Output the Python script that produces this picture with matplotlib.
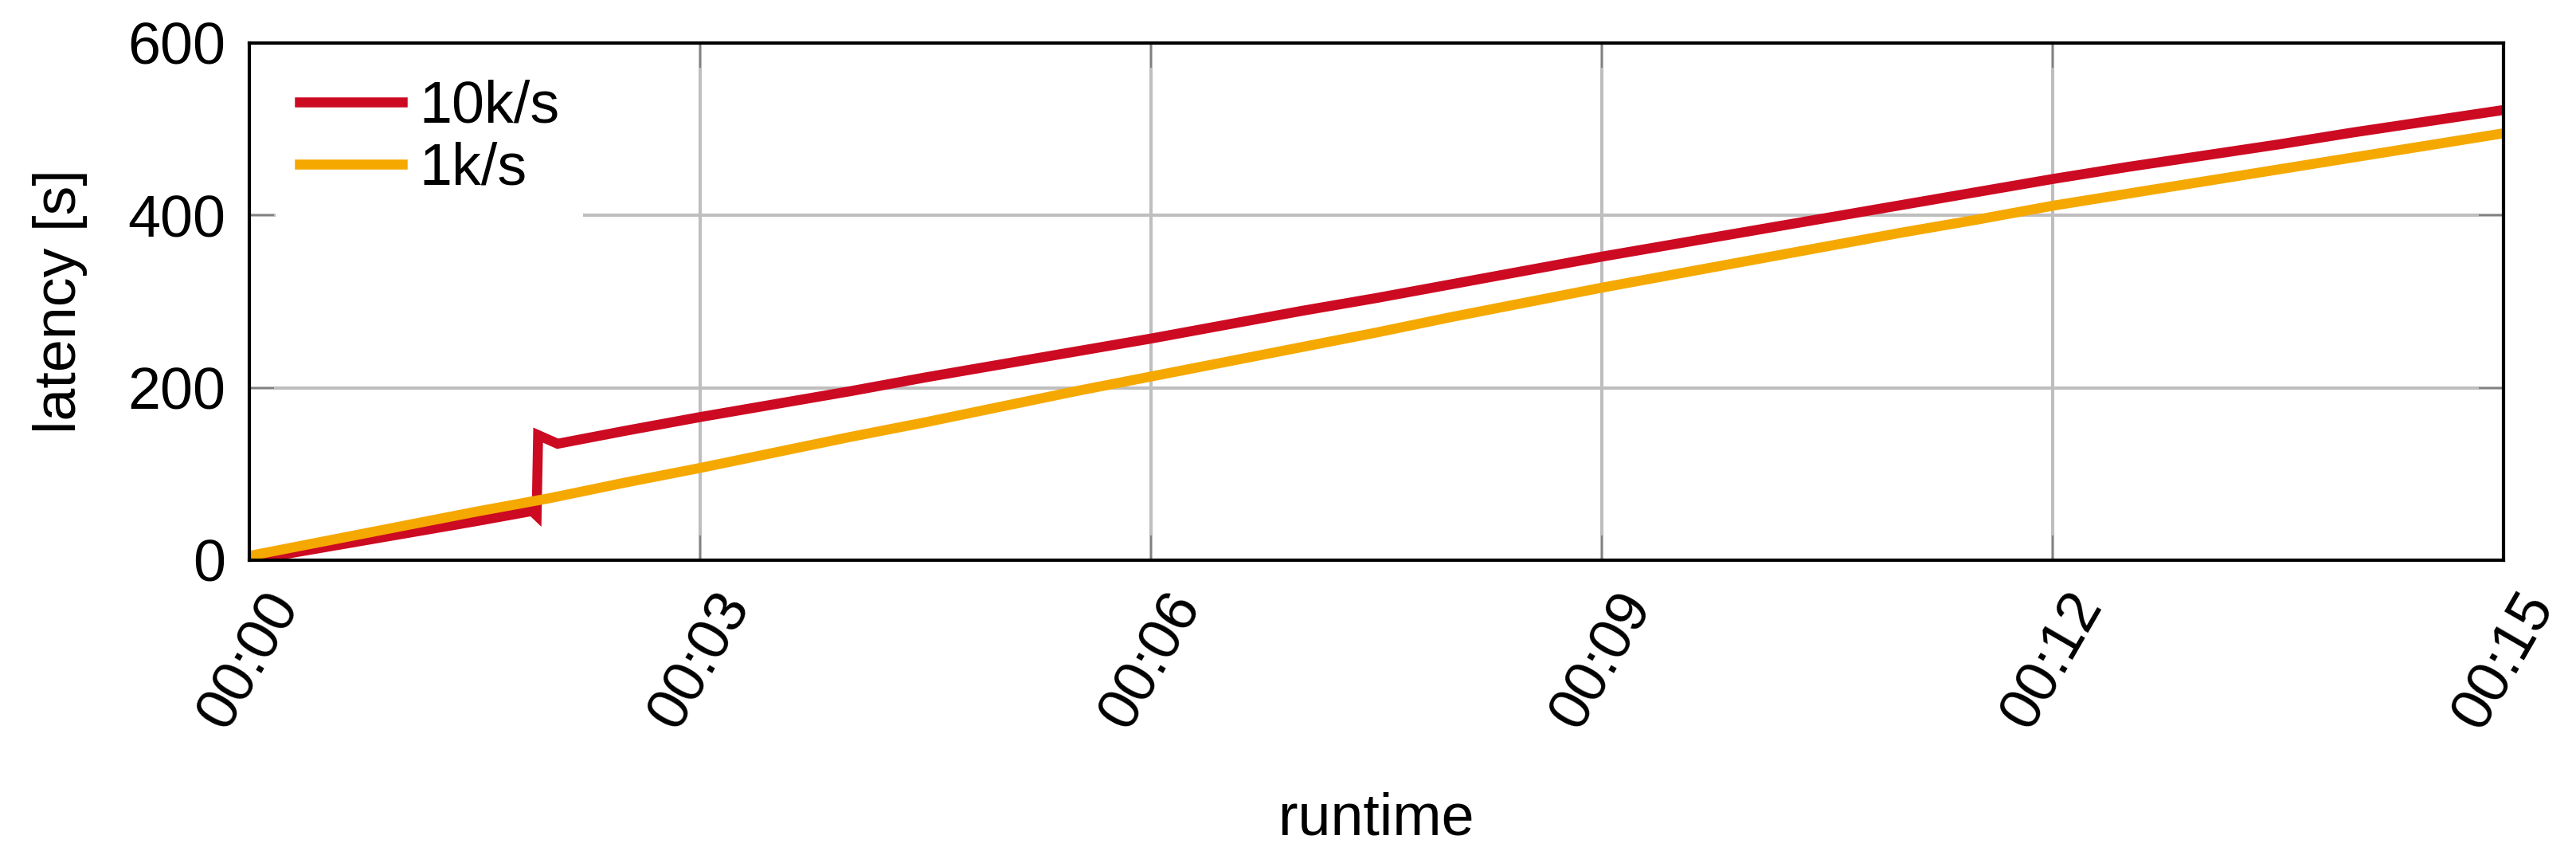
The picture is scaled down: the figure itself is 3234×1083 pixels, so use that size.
import matplotlib
matplotlib.use("Agg")
import matplotlib.pyplot as plt

# ---- data (runtime in minutes, latency in seconds) ----
t_10k = [0.0, 0.5, 1.0, 1.5, 1.88, 1.91, 1.92, 2.05, 2.5, 3.0, 3.5, 4.0, 4.5, 5.0,
         5.5, 6.0, 6.5, 7.0, 7.5, 8.0, 8.5, 9.0, 9.5, 10.0, 10.5, 11.0, 11.5, 12.0,
         12.5, 13.0, 13.5, 14.0, 14.5, 15.0]
lat_10k = [0, 15, 30, 45, 57, 52, 145, 135, 150, 166, 181, 196, 212, 227,
           242, 257, 273, 289, 304, 320, 336, 352, 367, 382, 397, 412, 427, 442,
           456, 469, 482, 496, 509, 522]

t_1k = [0.0, 0.5, 1.0, 1.5, 2.0, 2.5, 3.0, 3.5, 4.0, 4.5, 5.0, 5.5, 6.0, 6.5, 7.0,
        7.5, 8.0, 8.5, 9.0, 9.5, 10.0, 10.5, 11.0, 11.5, 12.0, 12.5, 13.0, 13.5,
        14.0, 14.5, 15.0]
lat_1k = [5, 22, 39, 56, 72, 90, 107, 125, 143, 160, 178, 196, 213, 230, 247,
          264, 282, 299, 316, 332, 348, 364, 380, 395, 411, 425, 439, 453,
          467, 481, 495]

x_ticks = [0, 3, 6, 9, 12, 15]
x_ticklabels = ["00:00", "00:03", "00:06", "00:09", "00:12", "00:15"]
y_ticks = [0, 200, 400, 600]

series_labels = ["10k/s", "1k/s"]
RED = "#CC0A22"
YELLOW = "#F5A800"
FS = 53

plt.rcParams["font.family"] = ["Liberation Sans", "DejaVu Sans"]

fig = plt.figure(figsize=(32.34, 10.83), dpi=100)
ax = fig.add_axes([0.0969, 0.3509, 0.9719 - 0.0969, 0.9505 - 0.3509])

ax.plot(t_10k, lat_10k, color=RED, lw=9, label=series_labels[0], zorder=3,
        solid_joinstyle="miter")
ax.plot(t_1k, lat_1k, color=YELLOW, lw=9, label=series_labels[1], zorder=4)

ax.set_xlim(0, 15)
ax.set_ylim(0, 600)
ax.set_xticks(x_ticks)
ax.set_xticklabels(x_ticklabels, rotation=60, ha="center", va="top")
ax.set_yticks(y_ticks)

ax.grid(True, color="#BEBEBE", lw=2.9, zorder=0)
ax.set_axisbelow(True)

ax.tick_params(axis="both", direction="in", length=22, width=1.5,
               color="#808080", labelsize=FS, top=True, right=True)
ax.tick_params(axis="x", pad=21)
ax.tick_params(axis="y", pad=22)

for s in ax.spines.values():
    s.set_linewidth(3)
    s.set_color("black")
    s.set_zorder(5)

ax.set_xlabel("runtime", fontsize=FS, labelpad=48)
ax.set_ylabel("latency [s]", fontsize=FS, labelpad=36)

leg = ax.legend(loc="upper left", bbox_to_anchor=(0.0117, 0.974),
                fontsize=FS, frameon=True, framealpha=1,
                facecolor="white", edgecolor="none", fancybox=False,
                handlelength=1.75, handletextpad=0.3, labelspacing=0.12,
                borderaxespad=0.0, borderpad=0.4)
leg.set_zorder(6)

fig.savefig("out.png", dpi=100)
